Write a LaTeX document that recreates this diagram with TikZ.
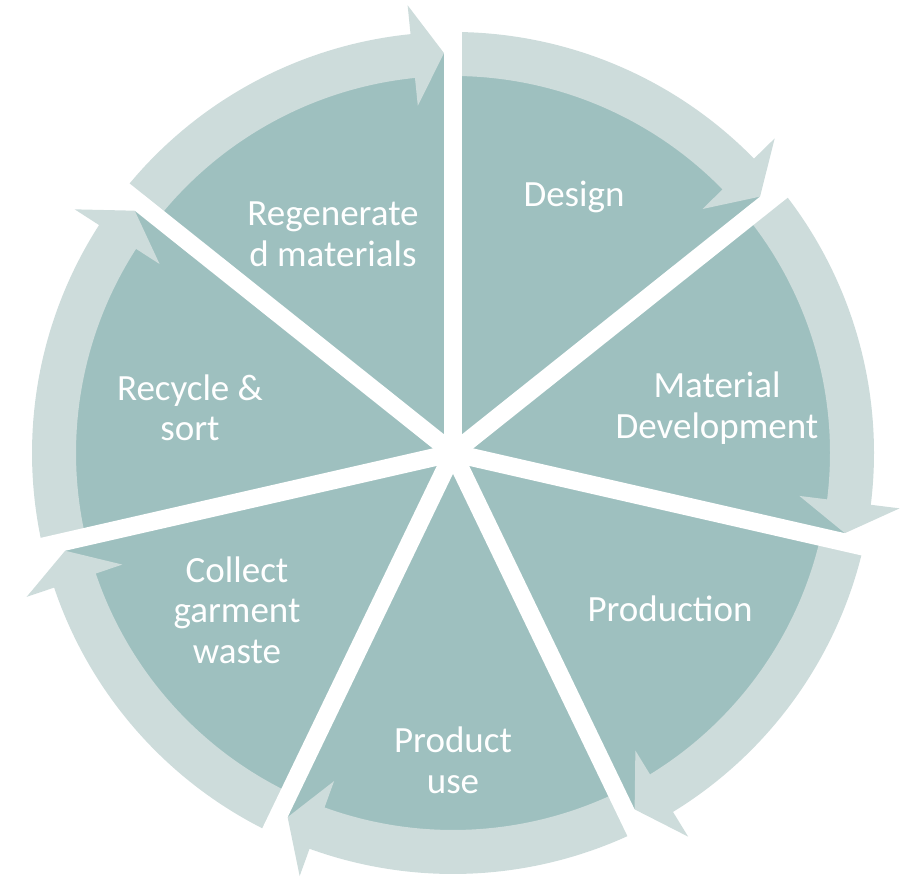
\documentclass[tikz,border=0pt]{standalone}
\usepackage{fontspec}
\setmainfont{Carlito}
\definecolor{piecol}{HTML}{9EC0BF}
\definecolor{arrcol}{HTML}{CDDCDB}
\begin{document}
\begin{tikzpicture}[x=0.5pt,y=0.5pt,
  lbl/.style={text=white,align=center,inner sep=0pt,font=\fontsize{18.5}{20.3}\selectfont},
  gapband/.style={draw=white,line width=9pt}]
\useasboundingbox (0,0) rectangle (908,881);
\begin{scope}[shift={(453,428)}]
\coordinate (C) at (0,0);
% pie wedges
\foreach \i in {0,...,6}{
  \pgfmathsetmacro{\aa}{90-\i*360/7}
  \pgfmathsetmacro{\ab}{90-(\i+1)*360/7}
  \fill[piecol] (C) -- (\aa:400) arc[start angle=\aa, end angle=\ab, radius=400] -- cycle;
}
% arrows
\foreach \i in {0,...,6}{
  \pgfmathsetmacro{\aa}{90-\i*360/7}
  \pgfmathsetmacro{\tt}{90-(\i+1)*360/7+1.29}
  \pgfmathsetmacro{\tb}{\tt+4.5}
  \fill[arrcol] (\aa:377) -- (\aa:421) arc[start angle=\aa, end angle=\tb, radius=421]
    -- (\tb:450) -- (\tt:400) -- (\tb:349) -- (\tb:377)
    arc[start angle=\tb, end angle=\aa, radius=377] -- cycle;
}
% gaps
\foreach \i in {0,...,6}{
  \pgfmathsetmacro{\aa}{90-\i*360/7}
  \draw[gapband] (C) -- (\aa:470);
}
\end{scope}
\node[lbl] (design) at (574,684) {Design};
\node[lbl] (regen) at (333,647) {Regenerate\\d materials};
\node[lbl] (matdev) at (717,473) {Material\\Development};
\node[lbl] (recycle) at (190,473) {Recycle \&\\sort};
\node[lbl] (prod) at (670,272) {Production};
\node[lbl] (collect) at (237,271) {Collect\\garment\\waste};
\node[lbl] (use) at (453,121) {Product\\use};
\end{tikzpicture}
\end{document}
